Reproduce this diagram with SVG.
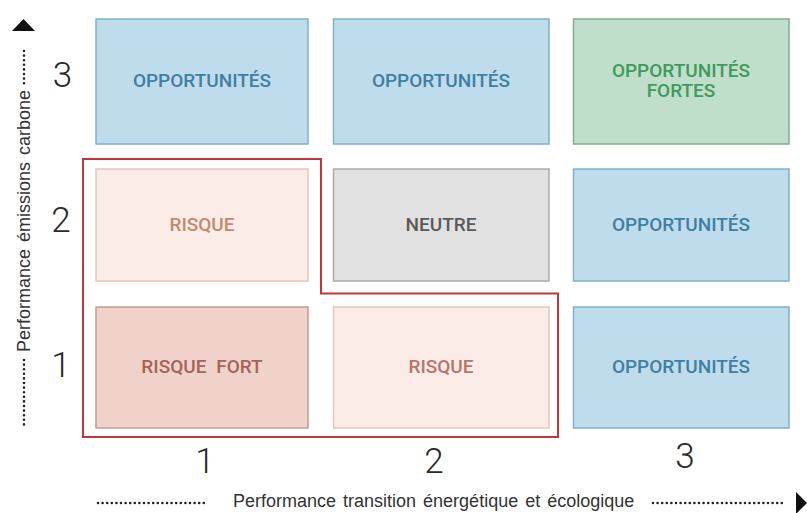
<svg xmlns="http://www.w3.org/2000/svg" width="807" height="513" viewBox="0 0 807 513">
<style>
.box{stroke-width:1.5}
.blue{fill:#bfdcec;stroke:#7fb2ca}
.green{fill:#c0dfca;stroke:#7cb28c}
.pink{fill:#fbece7;stroke:#e4c6bc}
.dpink{fill:#f0d2ca;stroke:#c59b91}
.gray{fill:#e1e1e1;stroke:#aaaaaa}
.lbl{font-family:Roboto,"Liberation Sans",sans-serif;font-size:19px;font-weight:500;text-anchor:middle}
.tb{fill:#3f7fa2}
.tg{fill:#3f9a5c}
.tr{fill:#c38a6d}
.tr2{fill:#b8746b}
.tdr{fill:#a5645a}
.tn{fill:#5a5a5a}
.num{font-family:Roboto,"Liberation Sans",sans-serif;font-size:35px;font-weight:300;fill:#2a2a2a;text-anchor:middle}
.ax{font-family:"Liberation Sans",Arial,sans-serif;font-size:18px;fill:#333;word-spacing:2px}
.dots{stroke:#222;stroke-width:2.6;stroke-linecap:round;stroke-dasharray:0 4.6;fill:none}
</style>
<rect width="807" height="513" fill="#ffffff"/>
<g id="connectors">
<path d="M83,159 H321 V293.5 H558 V437 H83 Z" fill="none" stroke="#c0363a" stroke-width="2"/>
<line class="dots" x1="98" y1="503" x2="208" y2="503"/>
<line class="dots" x1="653" y1="503" x2="786" y2="503"/>
<polygon points="796,492 807,503 796,514" fill="#111"/>
<line class="dots" x1="24" y1="51" x2="24" y2="86"/>
<line class="dots" x1="24" y1="360" x2="24" y2="428"/>
<polygon points="12,31 23.5,19 35,31" fill="#111"/>
</g>
<g id="axis-labels">
<text class="ax" x="233" y="507">Performance transition énergétique et écologique</text>
<text class="ax" text-anchor="middle" transform="translate(30,221) rotate(-90)">Performance émissions carbone</text>
<text class="num" x="62.5" y="87">3</text>
<text class="num" x="61" y="232">2</text>
<text class="num" x="61" y="377">1</text>
<text class="num" x="205" y="473">1</text>
<text class="num" x="434" y="473">2</text>
<text class="num" x="685" y="468">3</text>
</g>
<g id="n-1-3"><rect class="box blue" x="96" y="19" width="212" height="125"/><text class="lbl tb" x="202" y="87">OPPORTUNITÉS</text></g>
<g id="n-2-3"><rect class="box blue" x="333.5" y="19" width="215.5" height="125"/><text class="lbl tb" x="441" y="87">OPPORTUNITÉS</text></g>
<g id="n-3-3"><rect class="box green" x="573.5" y="19" width="215.5" height="125"/><text class="lbl tg" x="681" y="77">OPPORTUNITÉS</text><text class="lbl tg" x="681" y="97">FORTES</text></g>
<g id="n-1-2"><rect class="box pink" x="96" y="169" width="212" height="112"/><text class="lbl tr" x="202" y="231">RISQUE</text></g>
<g id="n-2-2"><rect class="box gray" x="333.5" y="169" width="215.5" height="112"/><text class="lbl tn" x="441" y="231">NEUTRE</text></g>
<g id="n-3-2"><rect class="box blue" x="573.5" y="169" width="215.5" height="112"/><text class="lbl tb" x="681" y="231">OPPORTUNITÉS</text></g>
<g id="n-1-1"><rect class="box dpink" x="96" y="307" width="212" height="121"/><text class="lbl tdr" x="202" y="373" style="word-spacing:5px">RISQUE FORT</text></g>
<g id="n-2-1"><rect class="box pink" x="333.5" y="307" width="215.5" height="121"/><text class="lbl tr2" x="441" y="373">RISQUE</text></g>
<g id="n-3-1"><rect class="box blue" x="573.5" y="307" width="215.5" height="121"/><text class="lbl tb" x="681" y="373">OPPORTUNITÉS</text></g>
</svg>
